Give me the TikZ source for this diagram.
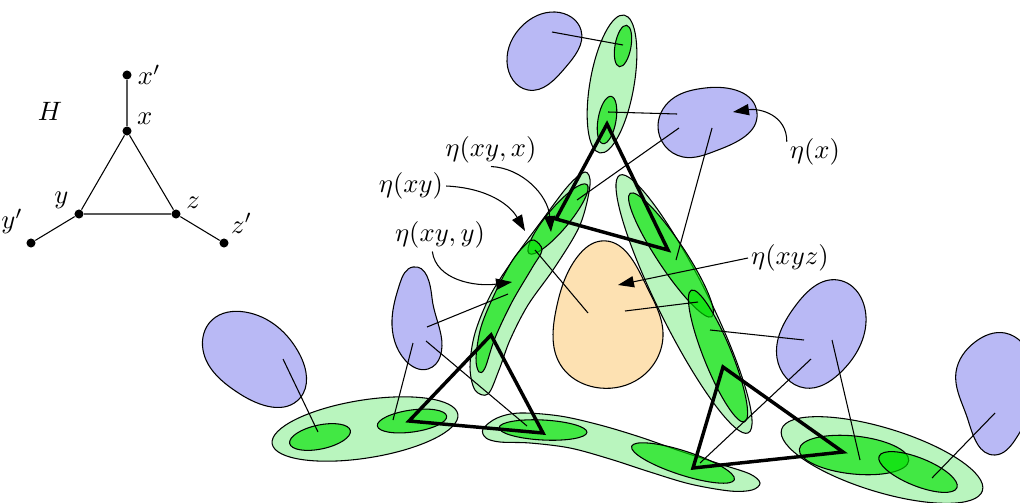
\documentclass[tikz,border=0pt]{standalone}
\usepackage{amsmath, amssymb}
\usepackage{tikz}
\usetikzlibrary{arrows.meta, calc, hobby}
\usepackage[dvipsnames, svgnames]{xcolor}

\definecolor{blobblue}{RGB}{185,185,245}
\definecolor{blobtan}{RGB}{253,225,178}
\definecolor{lightgrn}{RGB}{185,245,190}
\definecolor{darkgrn}{RGB}{0,225,0}

\tikzset{
  vtx/.style={circle, fill, inner sep=0pt, minimum size=3.4pt},
  vlab/.style={inner sep=1pt, label distance=1pt},
  blueblob/.style={draw, fill=blobblue, use Hobby shortcut, closed=true},
  tanblob/.style={draw, fill=blobtan, use Hobby shortcut, closed=true},
  pale/.style={draw, fill=lightgrn},
  deep/.style={draw, fill=darkgrn, fill opacity=0.64},
  tri/.style={line width=1.3pt, line join=miter},
  pointer/.style={-{Triangle[length=6pt,width=4.2pt]}},
  lbl/.style={inner sep=1pt}
}

\begin{document}
\begin{tikzpicture}[x=0.376pt, y=-0.376pt]
    \useasboundingbox (0,0) rectangle (1020,502);

    % The graph H
    \node[vtx, label={[vlab]0:$x'$}] (xp) at (127,75) {};
    \node[vtx, label={[vlab]25:$x$}] (x) at (127,131) {};
    \node[vtx, label={[vlab]165:$y$}] (y) at (79,214) {};
    \node[vtx, label={[vlab]20:$z$}] (z) at (176,214) {};
    \node[vtx, label={[vlab]130:$y'$}] (yp) at (31,243) {};
    \node[vtx, label={[vlab]60:$z'$}] (zp) at (224,243) {};
    \node (H) at (50,111) {$H$};
    \draw (xp) -- (x) -- (y) -- (z) -- (x);
    \draw (y) -- (yp);
    \draw (z) -- (zp);

    % Vertex blobs
    \draw[blueblob] (555,12) .. (581,30) .. (565,68) .. (528,90) .. (507,62) .. (522,26);
    \draw[blueblob] (705,88) .. (757,113) .. (718,150) .. (683,157) .. (658,125) .. (675,97);
    \draw[blueblob] (413,267) .. (432,298) .. (441,335) .. (428,369) .. (405,360) .. (392,320) .. (400,283);
    \draw[blueblob] (245,312) .. (300,355) .. (300,398) .. (240,394) .. (203,350) .. (212,320);
    \draw[blueblob] (838,280) .. (866,322) .. (840,373) .. (805,388) .. (777,358) .. (796,305);
    \draw[blueblob] (1005,333) .. (1032,360) .. (1015,440) .. (995,455) .. (968,420) .. (956,372) .. (975,342);
    \draw[tanblob] (601,241) .. (645,283) .. (663,333) .. (640,378) .. (600,388) .. (560,364) .. (556,310) .. (578,256);

    % Edge blobs, pale part
    \draw[pale, shift={(612,84)}, rotate=80] (0,0) ellipse[x radius=70, y radius=22];
    \draw[pale] plot[smooth cycle, tension=0.55] coordinates {(585,172) (590,185) (580,225) (555,267) (528,305) (510,340) (499,370) (488,394) (475,390) (470,367) (475,333) (491,294) (515,257) (543,219) (568,186)};
    \draw[pale, shift={(684,304)}, rotate=116.5] (0,0) ellipse[x radius=144, y radius=25];
    \draw[pale, shift={(365,429)}, rotate=9] (0,0) ellipse[x radius=94, y radius=29];
    \draw[pale] plot[smooth cycle, tension=0.55] coordinates {(483,429) (497,418) (520,413) (560,416) (600,425) (640,437) (680,451) (720,464) (750,474) (760,483) (752,490) (730,491) (690,484) (650,472) (610,459) (570,448) (530,443) (500,442) (486,438)};
    \draw[pale, shift={(882,460)}, rotate=-17] (0,0) ellipse[x radius=105, y radius=32];

    % Edge blobs, deep part
    \draw[deep, shift={(623,46)}, rotate=80] (0,0) ellipse[x radius=21, y radius=8];
    \draw[deep, shift={(607,120)}, rotate=80] (0,0) ellipse[x radius=24, y radius=9];
    \draw[deep, shift={(558,219)}, rotate=50] (0,0) ellipse[x radius=45, y radius=11];
    \draw[deep] plot[smooth cycle, tension=0.55] coordinates {(534,240) (542,250) (532,268) (512,302) (495,338) (485,368) (479,372) (476,358) (481,327) (495,293) (512,261) (526,244)};
    \draw[deep, shift={(671,255)}, rotate=123.5] (0,0) ellipse[x radius=74, y radius=14];
    \draw[deep, shift={(718,356)}, rotate=112] (0,0) ellipse[x radius=71, y radius=14];
    \draw[deep, shift={(320,437)}, rotate=12] (0,0) ellipse[x radius=31, y radius=12];
    \draw[deep, shift={(412,421)}, rotate=8] (0,0) ellipse[x radius=35, y radius=11];
    \draw[deep, shift={(543,430)}, rotate=-3] (0,0) ellipse[x radius=44, y radius=10];
    \draw[deep, shift={(683,463)}, rotate=-18] (0,0) ellipse[x radius=54, y radius=12];
    \draw[deep, shift={(854,455)}, rotate=-6] (0,0) ellipse[x radius=55, y radius=19];
    \draw[deep, shift={(918,472)}, rotate=-22] (0,0) ellipse[x radius=42, y radius=14];

    % Thin links
    \draw (552,32) -- (623,45);
    \draw (608,112) -- (677,114);
    \draw (679,128) -- (577,200);
    \draw (712,128) -- (676,260);
    \draw (427,327) -- (508,294);
    \draw (413,343) -- (393,420);
    \draw (426,341) -- (527,426);
    \draw (283,359) -- (318,432);
    \draw (535,250) -- (588,313);
    \draw (625,311) -- (698,302);
    \draw (804,340) -- (710,330);
    \draw (811,359) -- (700,463);
    \draw (832,340) -- (860,460);
    \draw (995,413) -- (932,478);

    % Triangles
    \draw[tri] (607,124) -- (556,219) -- (668,250) -- cycle;
    \draw[tri] (491,335) -- (409,421) -- (543,433) -- cycle;
    \draw[tri] (723,367) -- (693,468) -- (843,452) -- cycle;

    % Labels
    \node[lbl] (lx) at (815,152) {$\eta(x)$};
    \node[lbl] (lxyx) at (491,150) {$\eta(xy,x)$};
    \node[lbl] (lxy) at (411,186) {$\eta(xy)$};
    \node[lbl] (lxyy) at (440,235) {$\eta(xy,y)$};
    \node[lbl] (lxyz) at (790,258) {$\eta(xyz)$};
    \coordinate (tx) at (733,112);
    \coordinate (txyx) at (551,232);
    \coordinate (txy) at (525,231);
    \coordinate (txyy) at (512,282);
    \coordinate (txyz) at (618,285);
    \draw[pointer] (lx.160) .. controls (787,115) and (760,108) .. (tx);
    \draw[pointer] (lxyx.south) .. controls (522,168) and (548,195) .. (txyx);
    \draw[pointer] (lxy.east) .. controls (488,188) and (510,205) .. (txy);
    \draw[pointer] (lxyy.-115) .. controls (436,280) and (475,287) .. (txyy);
    \draw[pointer] (lxyz.west) -- (txyz);
\end{tikzpicture}
\end{document}
